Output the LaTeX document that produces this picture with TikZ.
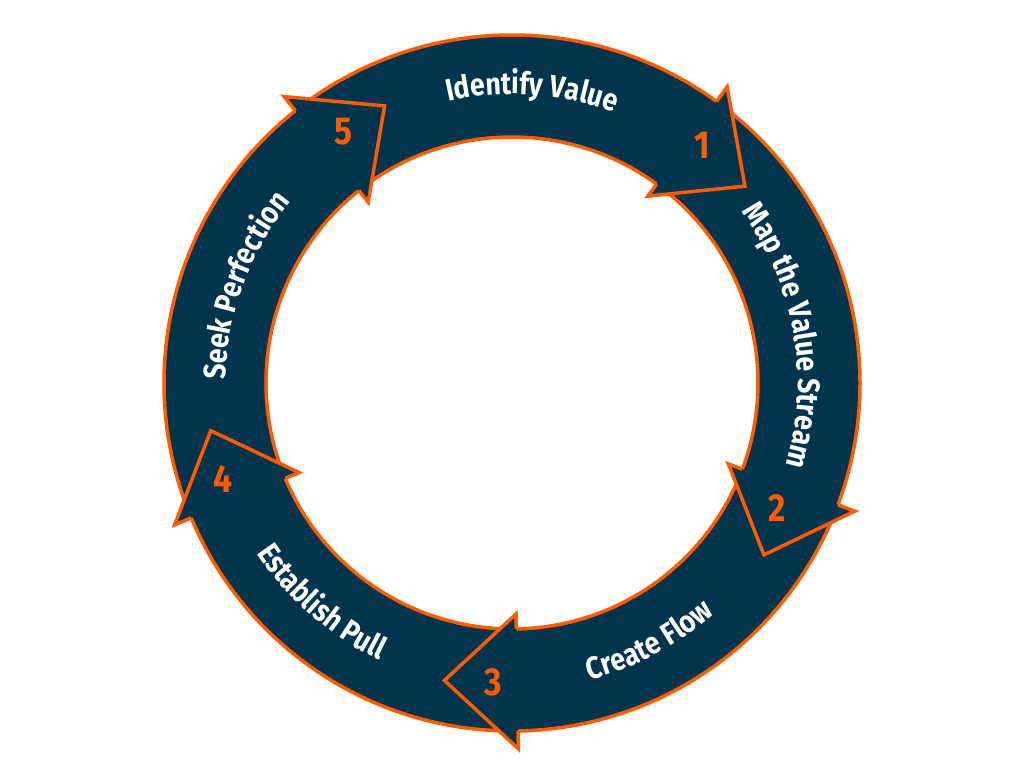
\documentclass[tikz,border=0pt]{standalone}
\usepackage{fontspec}
\usetikzlibrary{decorations.text}
\newfontfamily\lblfont[FakeStretch=0.86]{Fira Sans}
\definecolor{navy}{RGB}{3,52,78}
\definecolor{orng}{RGB}{255,92,0}
\tikzset{
  bodyfill/.style={fill=navy},
  edge/.style={draw=orng, line width=3.5pt, line join=miter, miter limit=20},
  numlbl/.style={text=orng, font=\lblfont\bfseries\fontsize{39}{41}\selectfont},
  curvelbl/.style={decorate, decoration={text along path, text align=center, text color=white,
     text={|\lblfont\bfseries\fontsize{31}{33}\selectfont|#1}}}
}
\begin{document}
\begin{tikzpicture}[x=1pt,y=1pt]
\useasboundingbox (-512,-385) rectangle (512,383);
\def\Ro{348}\def\Ri{246}
% bodies
\foreach \s/\b in {128/54, 53.5/-20.5, -21/-89, -89.5/-157.2, 202.3/128.5}{
  \pgfmathsetmacro{\bb}{\b-0.4}
  \fill[bodyfill] (\s:\Ro) arc[start angle=\s, end angle=\bb, radius=\Ro]
     -- (\bb:\Ri) arc[start angle=\bb, end angle=\s, radius=\Ri] -- cycle;
  \draw[edge] (\s:\Ro) arc[start angle=\s, end angle=\b, radius=\Ro];
  \draw[edge] (\s:\Ri) arc[start angle=\s, end angle=\b, radius=\Ri];
}
% arrowheads
\foreach \b in {54,-20.5,-89,-157.2,128.5}{
  \pgfmathsetmacro{\t}{\b-13.8}
  \fill[bodyfill] (\b:366) -- (\t:305) -- (\b:231) -- cycle;
  \draw[edge] (\b:\Ro) -- (\b:366) -- (\t:305) -- (\b:231) -- (\b:\Ri);
}
% numbers
\node[numlbl] (n1) at (190,238) {1};
\node[numlbl] (n2) at (265,-125) {2};
\node[numlbl] (n3) at (-19,-299) {3};
\node[numlbl] (n4) at (-289,-96) {4};
\node[numlbl] (n5) at (-169,251) {5};
% curved labels
\path[curvelbl={Identify Value}] (118:289) arc[start angle=118, end angle=54, radius=289];
\path[curvelbl={Map the Value Stream}] (48:286) arc[start angle=48, end angle=-28, radius=286];
\path[curvelbl={Seek Perfection}] (202:286) arc[start angle=202, end angle=118, radius=286];
\path[curvelbl={Create Flow}] (-98:307) arc[start angle=-98, end angle=-26, radius=307];
\path[curvelbl={Establish Pull}] (192:307) arc[start angle=192, end angle=266, radius=307];
\end{tikzpicture}
\end{document}
